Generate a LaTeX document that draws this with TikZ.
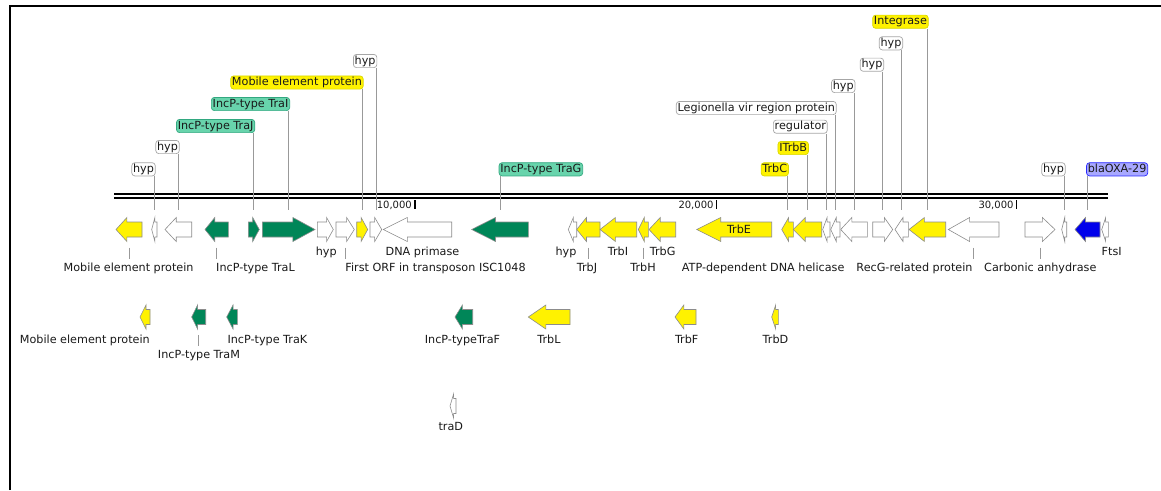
\documentclass[tikz,border=0pt]{standalone}
\usepackage{fontspec}
\setmainfont{DejaVu Sans}
\definecolor{geneGreen}{RGB}{0,134,88}
\definecolor{geneBlue}{RGB}{0,0,235}
\definecolor{cLabY}{RGB}{215,215,0}
\definecolor{cLabG}{RGB}{104,212,172}
\definecolor{cLabGd}{RGB}{50,168,128}
\definecolor{cLabB}{RGB}{168,168,255}
\definecolor{cLabBd}{RGB}{40,40,255}

% #1 name, #2 left x, #3 right x, #4 strand (1 or -1), #5 style, #6 row y
\newcommand{\gene}[6]{%
  \pgfmathsetmacro\gtip{#4>0 ? #3 : #2}%
  \pgfmathsetmacro\gbase{#4>0 ? #2 : #3}%
  \pgfmathsetmacro\glen{#3-#2}%
  \pgfmathsetmacro\ghead{\glen<14 ? 0.6*\glen : min(0.42*\glen,24)}%
  \pgfmathsetmacro\ghb{\gtip-(#4)*\ghead}%
  \draw[#5] (\gbase,#6-7.5) -- (\ghb,#6-7.5) -- (\ghb,#6-12) -- (\gtip,#6)
            -- (\ghb,#6+12) -- (\ghb,#6+7.5) -- (\gbase,#6+7.5) -- cycle;
  \coordinate (#1) at ({(#2+#3)/2},#6);
  \coordinate (#1-n) at ({(#2+#3)/2},#6-19.5);
  \coordinate (#1-s) at ({(#2+#3)/2},#6+18);
}

\begin{document}
\begin{tikzpicture}[x=1pt, y=-1pt, font=\fontsize{11.2}{13}\selectfont,
  gene/.style={draw=black!45, line width=0.6pt},
  yel/.style={gene, fill=yellow},
  grn/.style={gene, fill=geneGreen},
  wht/.style={gene, fill=white},
  blu/.style={gene, fill=geneBlue},
  lab/.style={rounded corners=3pt, line width=0.7pt, inner xsep=1.3pt, inner ysep=1pt,
              text height=8.6pt, text depth=2.6pt, text=black!90},
  labW/.style={lab, draw=black!35, fill=white},
  labY/.style={lab, draw=cLabY, fill=yellow},
  labG/.style={lab, draw=cLabGd, fill=cLabG},
  labB/.style={lab, draw=cLabBd, fill=cLabB},
  lead/.style={draw=black!40, line width=0.7pt},
  tick/.style={lead, shorten >=3.5pt},
  txt/.style={inner sep=0pt, anchor=base, text height=8.6pt, text depth=2.6pt, text=black!90},
  scl/.style={inner sep=0pt, anchor=base east, font=\fontsize{10}{12}\selectfont, text=black!90},
]
\useasboundingbox (0,0) rectangle (1161,490);
\draw[line width=1.6pt] (10,490) -- (10,6) -- (1161,6);

% backbone and scale
\draw[line width=2.2pt] (114,193.8) -- (1108,193.8);
\draw[line width=2.2pt] (114,197.7) -- (1108,197.7);
\node[scl] (s10) at (412,208.5) {10,000};
\node[scl] (s20) at (713.7,208.5) {20,000};
\node[scl] (s30) at (1013.7,208.5) {30,000};
\draw[line width=1.4pt] ([xshift=3pt]s10.base east) -- ++(0,-8.5);
\draw[line width=1.4pt] ([xshift=3pt]s20.base east) -- ++(0,-8.5);
\draw[line width=1.4pt] ([xshift=3pt]s30.base east) -- ++(0,-8.5);

% first row of genes
\gene{g01}{116}{142}{-1}{yel}{229.5}
\gene{g02}{151.7}{157}{-1}{wht}{229.5}
\gene{g03}{165}{191.7}{-1}{wht}{229.5}
\gene{g04}{205}{228.3}{-1}{grn}{229.5}
\gene{g05}{248.3}{259.3}{1}{grn}{229.5}
\gene{g06}{262.3}{315}{1}{grn}{229.5}
\gene{g07}{317.3}{333.3}{1}{wht}{229.5}
\gene{g08}{336}{354.3}{1}{wht}{229.5}
\gene{g09}{356.7}{367.7}{1}{yel}{229.5}
\gene{g10}{370}{381.7}{1}{wht}{229.5}
\gene{g11}{383.3}{451.7}{-1}{wht}{229.5}
\gene{g12}{471.7}{528.3}{-1}{grn}{229.5}
\gene{g13}{568.3}{576.7}{-1}{wht}{229.5}
\gene{g14}{576.7}{600}{-1}{yel}{229.5}
\gene{g15}{600}{636.7}{-1}{yel}{229.5}
\gene{g16}{638.3}{648.3}{-1}{yel}{229.5}
\gene{g17}{649}{675.7}{-1}{yel}{229.5}
\gene{g18}{696.7}{771.7}{-1}{yel}{229.5}
\gene{g19}{781.7}{793.3}{-1}{yel}{229.5}
\gene{g20}{793.3}{821.7}{-1}{yel}{229.5}
\gene{g21}{822.7}{830}{-1}{wht}{229.5}
\gene{g22}{830.7}{840}{-1}{wht}{229.5}
\gene{g23}{840.7}{867.3}{-1}{wht}{229.5}
\gene{g24}{872.7}{892.7}{1}{wht}{229.5}
\gene{g25}{895}{908.3}{-1}{wht}{229.5}
\gene{g26}{909}{945.7}{-1}{yel}{229.5}
\gene{g27}{948.3}{999}{-1}{wht}{229.5}
\gene{g28}{1025}{1055}{1}{wht}{229.5}
\gene{g29}{1061.7}{1066.7}{-1}{wht}{229.5}
\gene{g30}{1075}{1100}{-1}{blu}{229.5}
\gene{g31}{1101.7}{1108.3}{-1}{wht}{229.5}
\node[txt] (e18) at (739,233.5) {TrbE};

% second and third rows
\gene{k01}{140}{150}{-1}{yel}{317}
\gene{k02}{191.7}{205.7}{-1}{grn}{317}
\gene{k03}{226.7}{237.3}{-1}{grn}{317}
\gene{k04}{455}{472.7}{-1}{grn}{317}
\gene{k05}{528.3}{570}{-1}{yel}{317}
\gene{k06}{675}{696}{-1}{yel}{317}
\gene{k07}{771.7}{778.3}{-1}{yel}{317}
\gene{k08}{450}{456}{-1}{wht}{406}

% labels above
\node[labW, anchor=east] (l02) at (155.6,169.3) {hyp};
\node[labW, anchor=east] (l03) at (179.6,147) {hyp};
\node[labG, anchor=east] (l05) at (255.1,126) {IncP-type TraJ};
\node[labG, anchor=east] (l06) at (290,104) {IncP-type TraI};
\node[labY, anchor=east] (l09) at (363.5,82.5) {Mobile element protein};
\node[labW, anchor=east] (l10) at (377.2,61) {hyp};
\node[labG, anchor=west] (l12) at (498.7,169.3) {IncP-type TraG};
\node[labY, anchor=east] (l19) at (788.8,169.3) {TrbC};
\node[labY, anchor=east] (l20) at (808.8,148) {ITrbB};
\node[labW, anchor=east] (l21) at (827.6,126.7) {regulator};
\node[labW, anchor=east] (l22) at (836.6,108) {Legionella vir region protein};
\node[labW, anchor=east] (l23) at (855.3,86) {hyp};
\node[labW, anchor=east] (l24) at (884,64.7) {hyp};
\node[labW, anchor=east] (l25) at (903,43.3) {hyp};
\node[labY, anchor=east] (l26) at (928.6,21.7) {Integrase};
\node[labW, anchor=east] (l29) at (1065.5,169.3) {hyp};
\node[labB, anchor=west] (l30) at (1086.2,169.3) {blaOXA-29};

\draw[lead] (g02 |- l02.south) -- (g02-n);
\draw[lead] (g03 |- l03.south) -- (g03-n);
\draw[lead] (g05 |- l05.south) -- (g05-n);
\draw[lead] (g06 |- l06.south) -- (g06-n);
\draw[lead] (g09 |- l09.south) -- (g09-n);
\draw[lead] (g10 |- l10.south) -- (g10-n);
\draw[lead] (g12 |- l12.south) -- (g12-n);
\draw[lead] (g19 |- l19.south) -- (g19-n);
\draw[lead] (g20 |- l20.south) -- (g20-n);
\draw[lead] (g21 |- l21.south) -- (g21-n);
\draw[lead] (g22 |- l22.south) -- (g22-n);
\draw[lead] (g23 |- l23.south) -- (g23-n);
\draw[lead] (g24 |- l24.south) -- (g24-n);
\draw[lead] (g25 |- l25.south) -- (g25-n);
\draw[lead] (g26 |- l26.south) -- (g26-n);
\draw[lead] (g29 |- l29.south) -- (g29-n);
\draw[lead] (g30 |- l30.south) -- (g30-n);

% labels below
\node[txt] (b01) at (128.6,271) {Mobile element protein};
\node[txt, anchor=base west] (b04) at (216,271) {IncP-type TraL};
\node[txt] (b07) at (326.3,255.5) {hyp};
\node[txt, anchor=base west] (b08) at (345.2,271) {First ORF in transposon ISC1048};
\node[txt] (b11) at (422.5,255.5) {DNA primase};
\node[txt] (b13) at (566,255.5) {hyp};
\node[txt] (b14) at (587,271) {TrbJ};
\node[txt] (b15) at (618,255.5) {TrbI};
\node[txt] (b16) at (643,271) {TrbH};
\node[txt] (b17) at (662.7,255.5) {TrbG};
\node[txt, anchor=base west] (b18) at (681.7,271) {ATP-dependent DNA helicase};
\node[txt, anchor=base east] (b27) at (972.7,271) {RecG-related protein};
\node[txt] (b28) at (1040.3,271) {Carbonic anhydrase};
\node[txt] (b31) at (1111.7,255.5) {FtsI};

\node[txt, anchor=base east] (c01) at (150,343.3) {Mobile element protein};
\node[txt] (c02) at (199,358.3) {IncP-type TraM};
\node[txt, anchor=base west] (c03) at (227.3,343.3) {IncP-type TraK};
\node[txt] (c04) at (462.5,343.3) {IncP-typeTraF};
\node[txt] (c05) at (549,343.3) {TrbL};
\node[txt] (c06) at (686.7,343.3) {TrbF};
\node[txt] (c07) at (775.5,343.3) {TrbD};
\node[txt] (c08) at (450.8,430) {traD};

\draw[tick] (g01-s) -- (g01-s |- b01.north);
\draw[tick] (g04-s) -- (g04-s |- b04.north);
\draw[tick] (g08-s) -- (g08-s |- b08.north);
\draw[tick] (g14-s) -- (g14-s |- b14.north);
\draw[tick] (g16-s) -- (g16-s |- b16.north);
\draw[tick] (g27-s) -- (g27-s |- b27.north);
\draw[tick] (g28-s) -- (g28-s |- b28.north);
\draw[tick] (k02-s) -- (k02-s |- c02.north);
\end{tikzpicture}
\end{document}
